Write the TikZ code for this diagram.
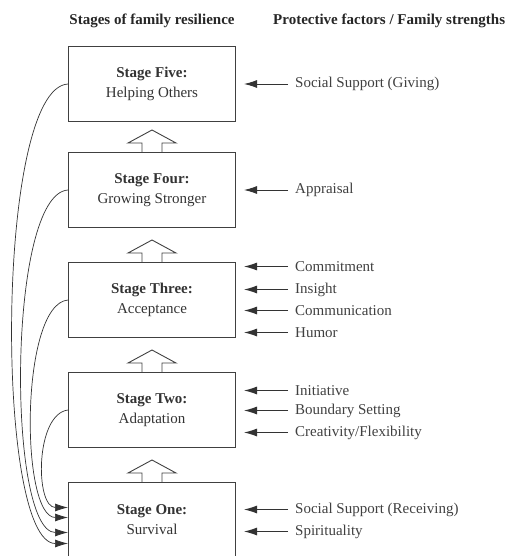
\documentclass[tikz,border=0pt]{standalone}
\usepackage{fontspec}
\setmainfont{Liberation Serif}
\usetikzlibrary{arrows.meta,positioning}
\begin{document}
\begin{tikzpicture}[x=1pt,y=1pt]
	\tikzstyle{stage}=[rectangle,draw=black!75,line width=1pt,minimum width=167pt,minimum height=75pt,align=center,text=black!80,font=\fontsize{15}{20}\selectfont]
	\tikzstyle{factor}=[inner sep=0pt,inner xsep=7pt,text=black!75,font=\fontsize{15}{18}\selectfont]
	\tikzstyle{head}=[inner sep=0pt,text=black!85,font=\bfseries\fontsize{15}{18}\selectfont]
	\tikzstyle{feed}=[-{Latex[length=13pt,width=8pt]},black!80,line width=0.9pt]
	\useasboundingbox (0,0) rectangle (514,-556);
	\node(stages)[head] at (152,-21) {Stages of family resilience};
	\node(factors)[head,anchor=west] at (273,-21) {Protective factors / Family strengths};
	% the five stages
	\node(five)[stage] at (152,-84) {\textbf{Stage Five:}\\Helping Others};
	\node(four)[stage,below=30pt of five] {\textbf{Stage Four:}\\Growing Stronger};
	\node(three)[stage,below=34pt of four] {\textbf{Stage Three:}\\Acceptance};
	\node(two)[stage,below=34pt of three] {\textbf{Stage Two:}\\Adaptation};
	\node(one)[stage,below=34pt of two] {\textbf{Stage One:}\\Survival};
	\foreach \a in {one,two,three,four}
		\draw[black!75,line width=0.9pt] (\a.north) ++(10,0) -- ++(0,9) -- ++(14,0) -- ++(-24,13) -- ++(-24,-13) -- ++(14,0) -- ++(0,-9);
	% protective factors
	\node(giving)[factor,right=52pt of five.east] {Social Support (Giving)};
	\node(appraisal)[factor,right=52pt of four.east] {Appraisal};
	\node(commitment)[factor,right=52pt of three.east,yshift=33.5pt] {Commitment};
	\node(insight)[factor,right=52pt of three.east,yshift=10.5pt] {Insight};
	\node(communication)[factor,right=52pt of three.east,yshift=-10.5pt] {Communication};
	\node(humor)[factor,right=52pt of three.east,yshift=-32.5pt] {Humor};
	\node(initiative)[factor,right=52pt of two.east,yshift=19.5pt] {Initiative};
	\node(boundary)[factor,right=52pt of two.east,yshift=-0.5pt] {Boundary Setting};
	\node(creativity)[factor,right=52pt of two.east,yshift=-22.5pt] {Creativity/Flexibility};
	\node(receiving)[factor,right=52pt of one.east,yshift=10.5pt] {Social Support (Receiving)};
	\node(spirituality)[factor,right=52pt of one.east,yshift=-11.5pt] {Spirituality};
	\foreach \f/\s in {giving/five,appraisal/four,commitment/three,insight/three,communication/three,humor/three,initiative/two,boundary/two,creativity/two,receiving/one,spirituality/one}
		\draw[feed,shorten >=8pt] (\f) -- (\f -| \s.east);
	% back to survival
	\coordinate(in2) at ([yshift=12.5pt]one.west);
	\coordinate(in3) at ([yshift=2.5pt]one.west);
	\coordinate(in4) at ([yshift=-12.5pt]one.west);
	\coordinate(in5) at ([yshift=-23.5pt]one.west);
	\draw[feed,line width=0.7pt] (five.west) .. controls +(-73,-4) and +(-73,0) .. (in5);
	\draw[feed,line width=0.7pt] (four.west) .. controls +(-61,-4) and +(-61,0) .. (in4);
	\draw[feed,line width=0.7pt] (three.west) .. controls +(-48,-4) and +(-48,0) .. (in3);
	\draw[feed,line width=0.7pt] (two.west) .. controls +(-33,-4) and +(-33,0) .. (in2);
\end{tikzpicture}
\end{document}
